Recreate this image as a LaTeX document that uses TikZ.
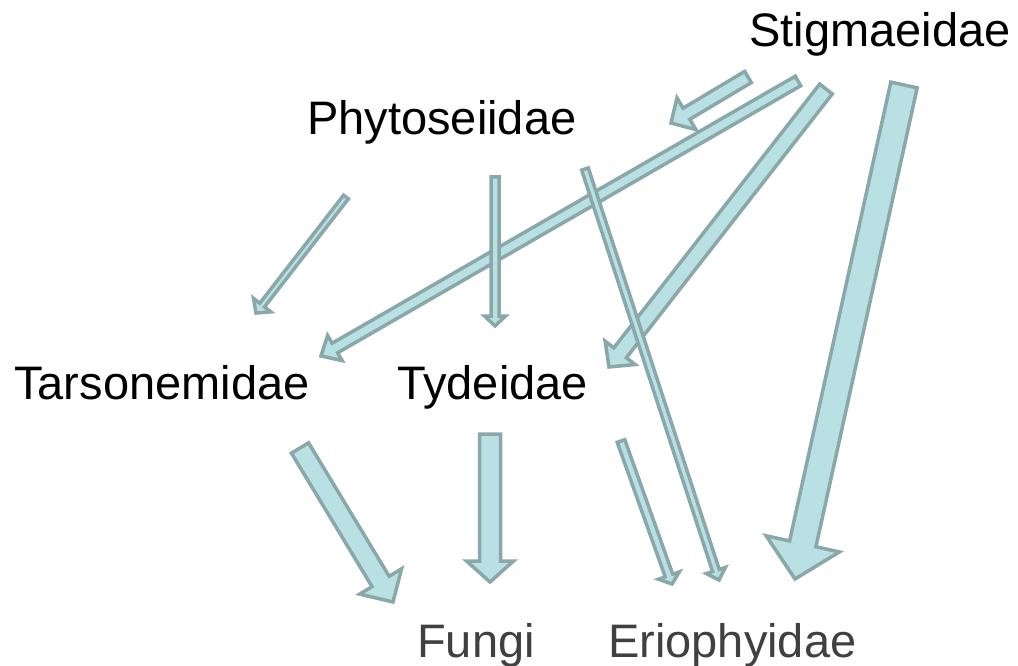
\documentclass[tikz,border=0pt]{standalone}
\usepackage{fontspec}
\setmainfont{Liberation Sans}
\usetikzlibrary{
    calc,
    positioning
}
\definecolor{miteFill}{RGB}{185,224,227}
\definecolor{miteLine}{RGB}{138,168,170}
\definecolor{preyGray}{RGB}{64,64,64}
\tikzset{
  taxon/.style  = {inner sep=0pt, anchor=base west,
                   font=\fontsize{47}{56}\selectfont},
  prey/.style   = {taxon, text=preyGray},
  barrow/.style = {draw=miteLine, fill=miteFill, line width=3.5pt,
                   line join=miter}
}
% block arrow: tail, tip, shaft half-width, head half-width, head length
\newcommand{\blockarrow}[5]{%
  \coordinate (ba-h) at ($(#2)!#5!(#1)$);
  \draw[barrow] ($(#1)!#3!90:(#2)$) -- ($(ba-h)!#3!-90:(#1)$)
    -- ($(ba-h)!#4!-90:(#1)$) -- (#2) -- ($(ba-h)!#4!90:(#1)$)
    -- ($(ba-h)!#3!90:(#1)$) -- ($(#1)!#3!-90:(#2)$) -- cycle;
}

\begin{document}
\begin{tikzpicture}[x=1pt, y=-1pt]
        \useasboundingbox (0,0) rectangle (1018,666);

        % ── TAXA ──
        \node[taxon] (stig) at (749,47)  {Stigmaeidae};
        \node[taxon] (phyt) at (307,135) {Phytoseiidae};
        \node[taxon] (tars) at (14,399)  {Tarsonemidae};
        \node[taxon] (tyde) at (397,399) {Tydeidae};
        \node[prey]  (fung) at (417,657) {Fungi};
        \node[prey]  (erio) at (608,657) {Eriophyidae};

        % ── ARROW ENDS ──
        \coordinate (stig-phyt-a) at (748,77);
        \coordinate (stig-phyt-b) at (671,123);
        \coordinate (stig-tars-a) at (798,81);
        \coordinate (stig-tars-b) at (321,356);
        \coordinate (stig-tyde-a) at (826,89);
        \coordinate (stig-tyde-b) at (609,367);
        \coordinate (stig-erio-a) at (904,85);
        \coordinate (stig-erio-b) at (795,579);
        \coordinate (phyt-tars-a) at (346,197);
        \coordinate (phyt-tars-b) at (256,313);
        \coordinate (phyt-tyde-a) at (495,177);
        \coordinate (phyt-tyde-b) at (495,326);
        \coordinate (phyt-erio-a) at (585,169);
        \coordinate (phyt-erio-b) at (719,580);
        \coordinate (tars-fung-a) at (300,448);
        \coordinate (tars-fung-b) at (393,602);
        \coordinate (tyde-fung-a) at (490,434);
        \coordinate (tyde-fung-b) at (490,582);
        \coordinate (tyde-erio-a) at (621,441);
        \coordinate (tyde-erio-b) at (672,584);

        % ── FROM STIGMAEIDAE ──
        \blockarrow{stig-tars-a}{stig-tars-b}{5.5pt}{14.5pt}{16pt}
        \blockarrow{stig-tyde-a}{stig-tyde-b}{8pt}{19pt}{18pt}
        \blockarrow{stig-erio-a}{stig-erio-b}{13.5pt}{37.5pt}{36pt}
        \blockarrow{stig-phyt-a}{stig-phyt-b}{6.5pt}{18.5pt}{18pt}

        % ── FROM PHYTOSEIIDAE ──
        \blockarrow{phyt-tars-a}{phyt-tars-b}{3pt}{11pt}{10pt}
        \blockarrow{phyt-tyde-a}{phyt-tyde-b}{4pt}{10.5pt}{10pt}
        \blockarrow{phyt-erio-a}{phyt-erio-b}{3.5pt}{10pt}{10pt}

        % ── TO PREY ──
        \blockarrow{tars-fung-a}{tars-fung-b}{10pt}{24.5pt}{24pt}
        \blockarrow{tyde-fung-a}{tyde-fung-b}{10.5pt}{23.5pt}{21pt}
        \blockarrow{tyde-erio-a}{tyde-erio-b}{4pt}{11pt}{9pt}
\end{tikzpicture}
\end{document}
